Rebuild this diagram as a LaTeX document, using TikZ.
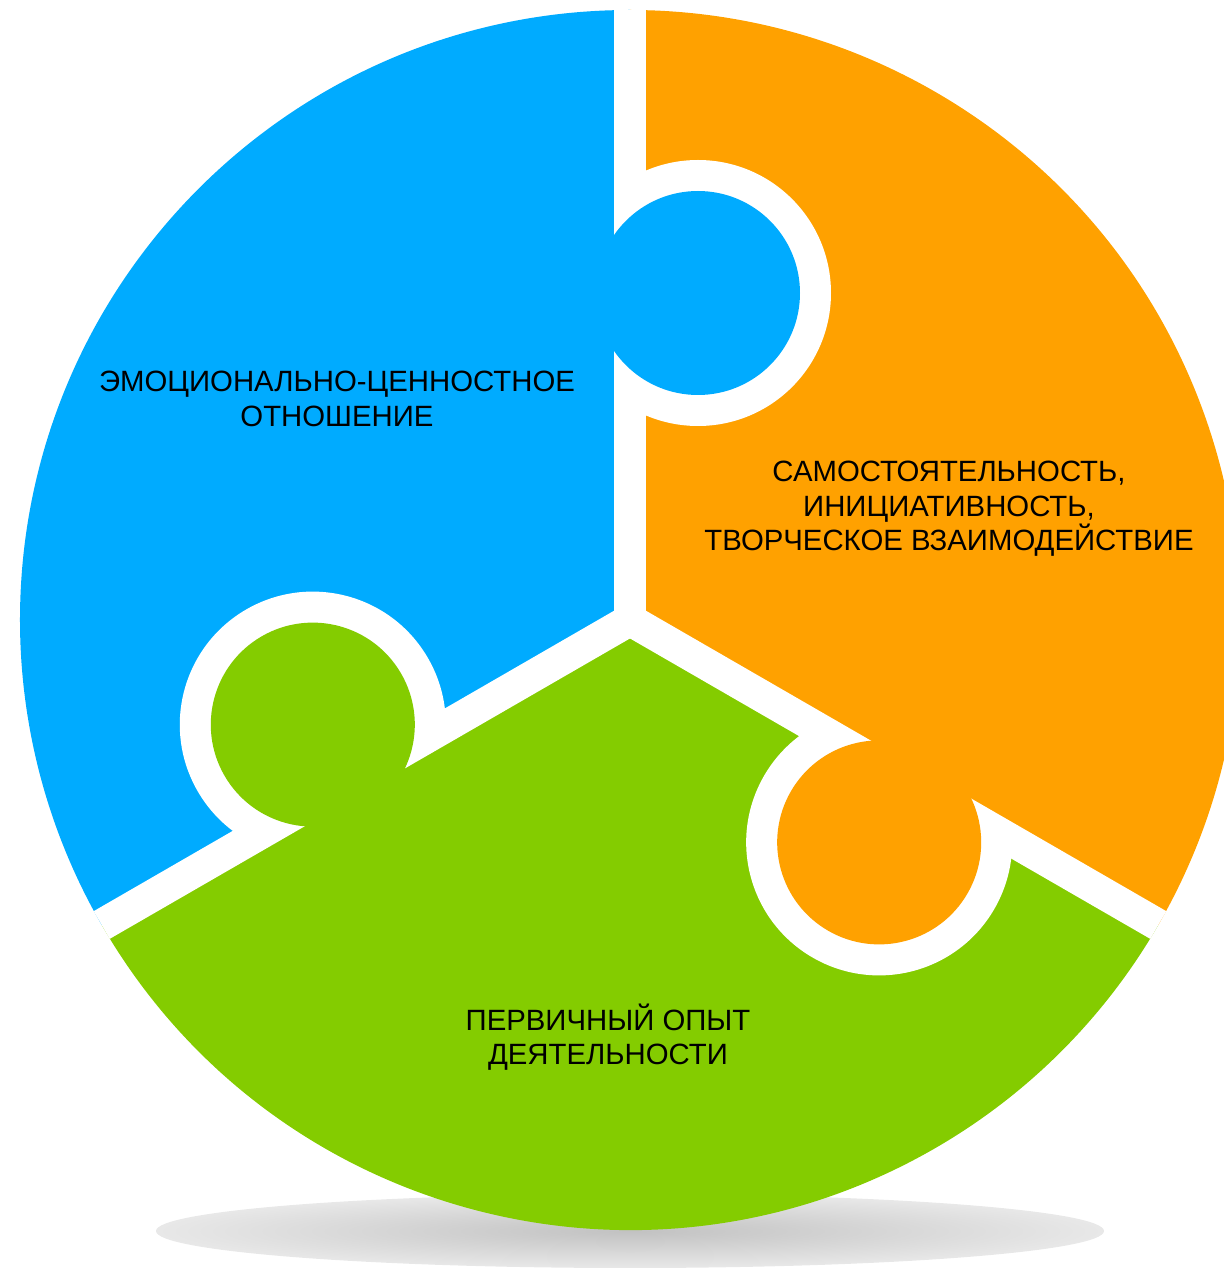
\documentclass[tikz,border=0pt]{standalone}
\usepackage{fontspec}
\setmainfont{Liberation Sans}
\usepackage{tikz}
\definecolor{puzblue}{RGB}{0,171,255}
\definecolor{puzorange}{RGB}{255,161,0}
\definecolor{puzgreen}{RGB}{132,204,0}
\tikzstyle{gap} = [fill=white]
\tikzstyle{piecetext} = [align=center, text=black, inner sep=0pt, font=\fontsize{16.7}{19.6}\selectfont]
\tikzstyle{shadow} = [inner color=black!24, outer color=black!9]

\begin{document}
\begin{tikzpicture}[x=0.02cm, y=0.02cm]

\useasboundingbox (-630,-648) rectangle (594,620);

% shadow under the circle
\shade[shadow] (0,-611) ellipse [x radius=474, y radius=37];

% three sectors
\foreach \ang/\col in {90/puzblue, 210/puzgreen, 330/puzorange}{
  \fill[\col] (0,0) -- (\ang:610) arc[start angle=\ang, end angle=\ang+120, radius=610] -- cycle;
}
% white cuts with notch, then the knob
\foreach \ang/\col in {90/puzblue, 210/puzgreen, 330/puzorange}{
  \begin{scope}[rotate=\ang]
    \fill[gap] (0,-16) rectangle (610,16);
    \begin{scope}
      \clip (150,0) rectangle (500,-250);
      \fill[gap] (327,-68) circle (133);
    \end{scope}
    \fill[\col] (327,-68) circle (102);
  \end{scope}
}

\node (tblue) at (-293,221) [piecetext] {ЭМОЦИОНАЛЬНО-ЦЕННОСТНОЕ\\ОТНОШЕНИЕ};
\node (torange) at (319,111) [piecetext] {САМОСТОЯТЕЛЬНОСТЬ,\\ИНИЦИАТИВНОСТЬ,\\ТВОРЧЕСКОЕ ВЗАИМОДЕЙСТВИЕ};
\node (tgreen) at (-22,-417) [piecetext] {ПЕРВИЧНЫЙ ОПЫТ\\ДЕЯТЕЛЬНОСТИ};

\end{tikzpicture}
\end{document}
